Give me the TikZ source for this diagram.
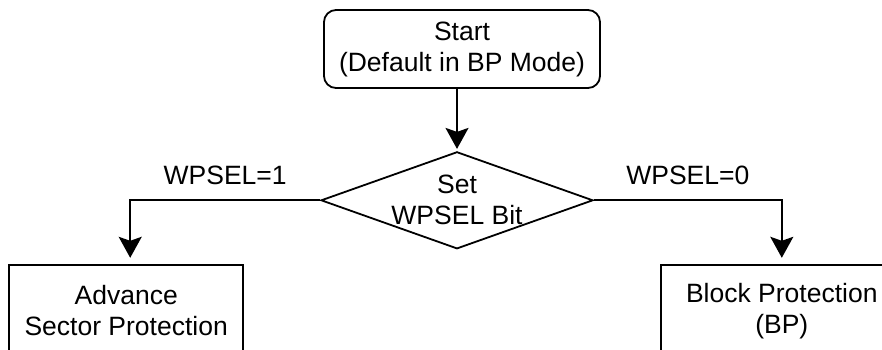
\documentclass[tikz,border=0pt]{standalone}
\usepackage{fontspec}
\setmainfont{Liberation Sans}
\usetikzlibrary{arrows.meta,positioning,shapes.geometric}

\begin{document}
\begin{tikzpicture}[->,>={Stealth[length=21pt,width=23pt,inset=4pt]},shorten >=2pt,
		x=1pt, y=1pt, line width=1.8pt, inner sep=0pt,
		font=\fontsize{26.5}{31}\selectfont]
		\tikzstyle{startbox}=[draw, rounded corners=12pt, align=center, minimum width=276pt, minimum height=78pt]
		\tikzstyle{decision}=[draw, diamond, aspect=2.8, align=center, minimum width=272pt, minimum height=97pt]
		\tikzstyle{modebox}=[draw, align=center, minimum height=92pt]
		\tikzstyle{choice}=[above=12pt, inner sep=3pt]
		
		\clip (0,0) rectangle (882,-349);
		
		\node[startbox] 					(start) at (462,-49) 						{Start\\(Default in BP Mode)};
		\node[decision] 					(bit) [below=62pt of start, xshift=-5pt] 	{Set\\WPSEL Bit};
		\node[modebox, minimum width=234pt] (asp) [below left=63.5pt and 76pt of bit.west] 	{Advance\\Sector Protection};
		\node[modebox, minimum width=242pt] (bp) [below right=63.5pt and 66pt of bit.east] 	{Block Protection\\(BP)};
		
		\draw (start.south -| bit.north) -- (bit.north);
		\draw[shorten >=6pt] (bit.west) -| node[choice, pos=0.25] {WPSEL=1} ([xshift=4pt]asp.north);
		\draw[shorten >=6pt] (bit.east) -| node[choice, pos=0.25] {WPSEL=0} (bp.north);
		\end{tikzpicture}
\end{document}
